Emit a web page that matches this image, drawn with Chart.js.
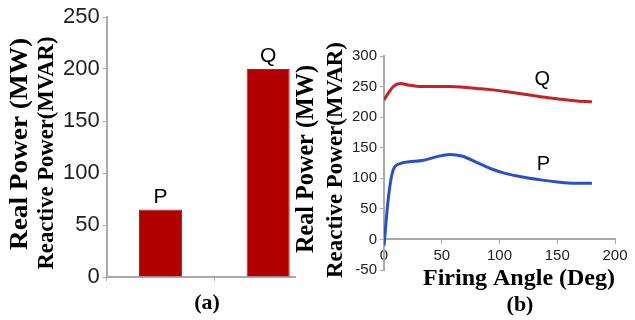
<!DOCTYPE html>
<html lang="en">
<head>
<meta charset="UTF-8">
<title>Real and Reactive Power</title>
<script src="https://cdn.jsdelivr.net/npm/chart.js"></script>
<style>
  body { margin: 0; background: #fff; }
  #wrap { position: relative; width: 635px; height: 320px; overflow: hidden; }
  #leftBox { position: absolute; left: 0; top: 0; width: 296px; height: 320px; overflow: hidden; }
  #rightBox { position: absolute; left: 294px; top: 0; width: 341px; height: 320px; }
</style>
</head>
<body>
<div id="wrap">
  <div id="leftBox"><canvas id="barChart" width="322" height="320"></canvas></div>
  <div id="rightBox"><canvas id="lineChart" width="341" height="320"></canvas></div>
</div>

<script>
// (a) bar chart
const barLabels = ['P', 'Q'];
const barValues = [65, 200];
const barTicks = [0, 50, 100, 150, 200, 250];

// (b) power vs firing angle
const angles = [0, 4, 8, 14, 22, 33, 45, 57, 68, 80, 92, 105, 120, 137, 150, 165, 180];
const qValues = [228, 240, 250, 255, 252, 250, 250, 250, 249, 247, 245, 242, 238, 233, 230, 227, 225];
const pValues = [-10, 72, 114, 124, 127, 129, 135, 139, 136, 126, 116, 108, 102, 97, 94, 92, 92];
const angleTicks = [0, 50, 100, 150, 200];
const powerTicks = [-50, 0, 50, 100, 150, 200, 250, 300];

const AXIS = '#a8a8b2';
const SANS = '"Liberation Sans", Arial, sans-serif';
const SERIF = '"Liberation Serif", "Times New Roman", serif';

// draws extra text (rotated titles, P/Q tags, captions)
function textPlugin(items) {
    return {
        id: 'freeText',
        afterDraw(chart) {
            const ctx = chart.ctx;
            items.forEach(item => {
                const pos = item.at(chart);
                ctx.save();
                ctx.translate(pos.x, pos.y);
                if (item.rotate) ctx.rotate(-Math.PI / 2);
                ctx.font = item.font;
                ctx.fillStyle = '#000';
                ctx.textAlign = 'center';
                ctx.textBaseline = item.baseline || 'middle';
                if (item.len) {
                    const w = ctx.measureText(item.text).width;
                    ctx.scale(item.len / w, 1);
                }
                ctx.fillText(item.text, 0, 0);
                ctx.restore();
            });
        }
    };
}

function barTop(i) {
    return chart => {
        const bar = chart.getDatasetMeta(0).data[i];
        return { x: bar.x, y: bar.y - 2 };
    };
}

function atValue(x, y) {
    return chart => ({ x: chart.scales.x.getPixelForValue(x), y: chart.scales.y.getPixelForValue(y) });
}

const leftTexts = [
    { text: 'Real Power (MW)', at: () => ({ x: 20, y: 144 }), rotate: true, font: 'bold 26px ' + SERIF, len: 212 },
    { text: 'Reactive Power(MVAR)', at: () => ({ x: 47, y: 153 }), rotate: true, font: 'bold 23px ' + SERIF, len: 233 },
    { text: barLabels[0], at: barTop(0), font: '21px ' + SANS, baseline: 'bottom' },
    { text: barLabels[1], at: barTop(1), font: '21px ' + SANS, baseline: 'bottom' },
    { text: '(a)', at: () => ({ x: 207, y: 303 }), font: 'bold 22px ' + SERIF }
];

const rightTexts = [
    { text: 'Real Power (MW)', at: () => ({ x: 12, y: 159 }), rotate: true, font: 'bold 26px ' + SERIF, len: 188 },
    { text: 'Reactive Power(MVAR)', at: () => ({ x: 42, y: 160 }), rotate: true, font: 'bold 23px ' + SERIF, len: 236 },
    { text: 'Q', at: atValue(137, 262), font: '20px ' + SANS },
    { text: 'P', at: atValue(138, 123), font: '20px ' + SANS },
    { text: '(b)', at: () => ({ x: 226, y: 305 }), font: 'bold 22px ' + SERIF }
];

new Chart(document.getElementById('barChart'), {
    type: 'bar',
    data: {
        labels: barLabels,
        datasets: [{
            data: barValues,
            backgroundColor: '#b00000',
            borderColor: '#c21818',
            borderWidth: 1,
            categoryPercentage: 1,
            barPercentage: 0.4
        }]
    },
    options: {
        responsive: false,
        animation: false,
        layout: { padding: { left: 60, top: 17, right: 0, bottom: 39 } },
        plugins: { legend: { display: false }, tooltip: { enabled: false } },
        scales: {
            x: {
                ticks: { display: false },
                grid: { drawOnChartArea: false, drawTicks: true, tickLength: 4, color: AXIS },
                border: { color: AXIS, width: 2 }
            },
            y: {
                min: 0,
                max: 250,
                afterBuildTicks: axis => { axis.ticks = barTicks.map(v => ({ value: v })); },
                ticks: { autoSkip: false, padding: 3, color: '#222', font: { family: SANS, size: 22 } },
                grid: { drawOnChartArea: false, tickLength: 4, color: AXIS },
                border: { color: AXIS, width: 2 }
            }
        }
    },
    plugins: [textPlugin(leftTexts)]
});

new Chart(document.getElementById('lineChart'), {
    type: 'line',
    data: {
        datasets: [
            {
                label: 'Q',
                data: angles.map((a, i) => ({ x: a, y: qValues[i] })),
                borderColor: '#c42228',
                borderWidth: 3,
                pointRadius: 0,
                cubicInterpolationMode: 'monotone'
            },
            {
                label: 'P',
                data: angles.map((a, i) => ({ x: a, y: pValues[i] })),
                borderColor: '#2b4fc9',
                borderWidth: 3,
                pointRadius: 0,
                cubicInterpolationMode: 'monotone'
            }
        ]
    },
    options: {
        responsive: false,
        animation: false,
        layout: { padding: { left: 55, top: 56, right: 20, bottom: 50 } },
        plugins: { legend: { display: false }, tooltip: { enabled: false } },
        scales: {
            x: {
                type: 'linear',
                position: { y: 0 },
                min: 0,
                max: 200,
                afterBuildTicks: axis => { axis.ticks = angleTicks.map(v => ({ value: v })); },
                ticks: { autoSkip: false, padding: 3, color: '#222', font: { family: SANS, size: 15 } },
                grid: { drawOnChartArea: false, tickLength: 4, color: AXIS },
                border: { color: AXIS, width: 2 },
                title: {
                    display: true,
                    text: 'Firing Angle (Deg)',
                    align: 'end',
                    color: '#000',
                    font: { family: SERIF, size: 24, weight: 'bold' },
                    padding: { top: -3, bottom: 0 }
                }
            },
            y: {
                min: -50,
                max: 300,
                afterBuildTicks: axis => { axis.ticks = powerTicks.map(v => ({ value: v })); },
                ticks: { autoSkip: false, padding: 3, color: '#222', font: { family: SANS, size: 15 } },
                grid: { drawOnChartArea: false, tickLength: 4, color: AXIS },
                border: { color: AXIS, width: 2 }
            }
        }
    },
    plugins: [textPlugin(rightTexts)]
});
</script>
</body>
</html>
